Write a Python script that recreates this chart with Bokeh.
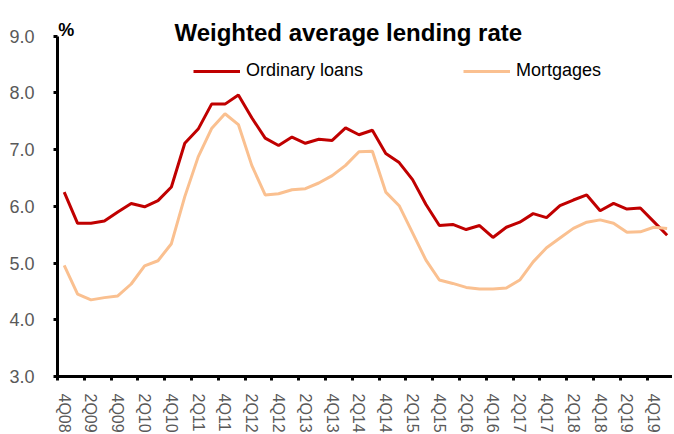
from bokeh.plotting import figure
from bokeh.models import Range1d, FixedTicker, NumeralTickFormatter, Label, Legend, LegendItem, ColumnDataSource
from bokeh.embed import file_html
from bokeh.resources import INLINE

quarters = ["4Q08",
            "1Q09", "2Q09", "3Q09", "4Q09",
            "1Q10", "2Q10", "3Q10", "4Q10",
            "1Q11", "2Q11", "3Q11", "4Q11",
            "1Q12", "2Q12", "3Q12", "4Q12",
            "1Q13", "2Q13", "3Q13", "4Q13",
            "1Q14", "2Q14", "3Q14", "4Q14",
            "1Q15", "2Q15", "3Q15", "4Q15",
            "1Q16", "2Q16", "3Q16", "4Q16",
            "1Q17", "2Q17", "3Q17", "4Q17",
            "1Q18", "2Q18", "3Q18", "4Q18",
            "1Q19", "2Q19", "3Q19", "4Q19",
            "1Q20"]

ordinary_loans = [6.25, 5.70, 5.70, 5.74, 5.90, 6.05, 5.99, 6.10, 6.34,
                  7.11, 7.36, 7.80, 7.80, 7.96, 7.56, 7.20, 7.07, 7.22, 7.11,
                  7.18, 7.16, 7.38, 7.26, 7.34, 6.93, 6.77, 6.47, 6.03,
                  5.66, 5.68, 5.59, 5.66, 5.45, 5.63, 5.72, 5.87, 5.80,
                  6.01, 6.11, 6.20, 5.92, 6.05, 5.95, 5.97, 5.73, 5.49]

mortgages = [4.96, 4.45, 4.35, 4.39, 4.42, 4.63, 4.95, 5.04, 5.34,
             6.17, 6.87, 7.37, 7.63, 7.44, 6.72, 6.20, 6.22, 6.29, 6.31,
             6.41, 6.54, 6.72, 6.96, 6.97, 6.25, 6.01, 5.53, 5.05,
             4.70, 4.64, 4.57, 4.54, 4.54, 4.56, 4.70, 5.02, 5.27,
             5.44, 5.61, 5.72, 5.76, 5.70, 5.54, 5.55, 5.63, 5.61]

y_ticks = [3, 4, 5, 6, 7, 8, 9]

RED = "#C00000"
ORANGE = "#FAC090"
FONT = "Liberation Sans"

idx = list(range(len(quarters)))
src = ColumnDataSource(dict(x=idx, q=quarters, ol=ordinary_loans, mg=mortgages))

p = figure(frame_width=615, frame_height=368,
           x_range=Range1d(-0.5, 45.4), y_range=Range1d(3, 9.485),
           output_backend="svg", toolbar_location=None,
           min_border_left=57, min_border_right=0, min_border_top=8, min_border_bottom=52)
p.background_fill_color = "white"
p.border_fill_color = "white"
p.outline_line_color = None
p.xgrid.visible = False
p.ygrid.visible = False

r1 = p.line("x", "ol", source=src, line_color=RED, line_width=3)
r2 = p.line("x", "mg", source=src, line_color=ORANGE, line_width=3)

# x axis
label_pos = idx[0::2][:23]
p.xaxis.ticker = FixedTicker(ticks=label_pos, minor_ticks=[i - 0.5 for i in label_pos])
p.xaxis.major_label_overrides = {i: quarters[i] for i in label_pos}
p.xaxis.major_label_orientation = "vertical"
p.xaxis.major_tick_line_color = None
p.xaxis.major_tick_out = 0
p.xaxis.major_tick_in = 0
p.xaxis.minor_tick_out = 4
p.xaxis.minor_tick_in = 0
p.xaxis.minor_tick_line_width = 3
p.xaxis.minor_tick_line_color = "black"
p.xaxis.axis_line_width = 3
p.xaxis.axis_line_color = "black"
p.xaxis.major_label_text_font = FONT
p.xaxis.major_label_text_font_size = "16px"
p.xaxis.major_label_text_color = "#595959"
p.xaxis.major_label_standoff = 13

# y axis
p.yaxis.ticker = FixedTicker(ticks=y_ticks, minor_ticks=[])
p.yaxis.formatter = NumeralTickFormatter(format="0.0")
p.yaxis.bounds = (3, 9)
p.yaxis.axis_line_width = 3
p.yaxis.axis_line_color = "black"
p.yaxis.major_tick_out = 4
p.yaxis.major_tick_in = 0
p.yaxis.major_tick_line_width = 3
p.yaxis.major_tick_line_color = "black"
p.yaxis.minor_tick_line_color = None
p.yaxis.major_label_text_font = FONT
p.yaxis.major_label_text_font_size = "18px"
p.yaxis.major_label_text_color = "#595959"
p.yaxis.major_label_standoff = 19

# title and unit
p.add_layout(Label(x=21.2, y=9.07, text="Weighted average lending rate",
                   text_font=FONT, text_font_size="24px", text_font_style="bold",
                   text_align="center", text_baseline="alphabetic", text_color="black"))
p.add_layout(Label(x=-0.45, y=9.11, text="%",
                   text_font=FONT, text_font_size="18px", text_font_style="bold",
                   text_align="left", text_baseline="alphabetic", text_color="black"))

legend = Legend(items=[LegendItem(label="Ordinary loans", renderers=[r1]),
                       LegendItem(label="Mortgages", renderers=[r2])],
                orientation="horizontal", location=(136, 295),
                glyph_width=47, glyph_height=20, label_height=20,
                label_standoff=6, spacing=100, padding=0, margin=0,
                border_line_color=None, background_fill_alpha=0,
                label_text_font=FONT, label_text_font_size="18px",
                label_text_color="black")
p.add_layout(legend)

open("out.html", "w").write(file_html(p, INLINE))
